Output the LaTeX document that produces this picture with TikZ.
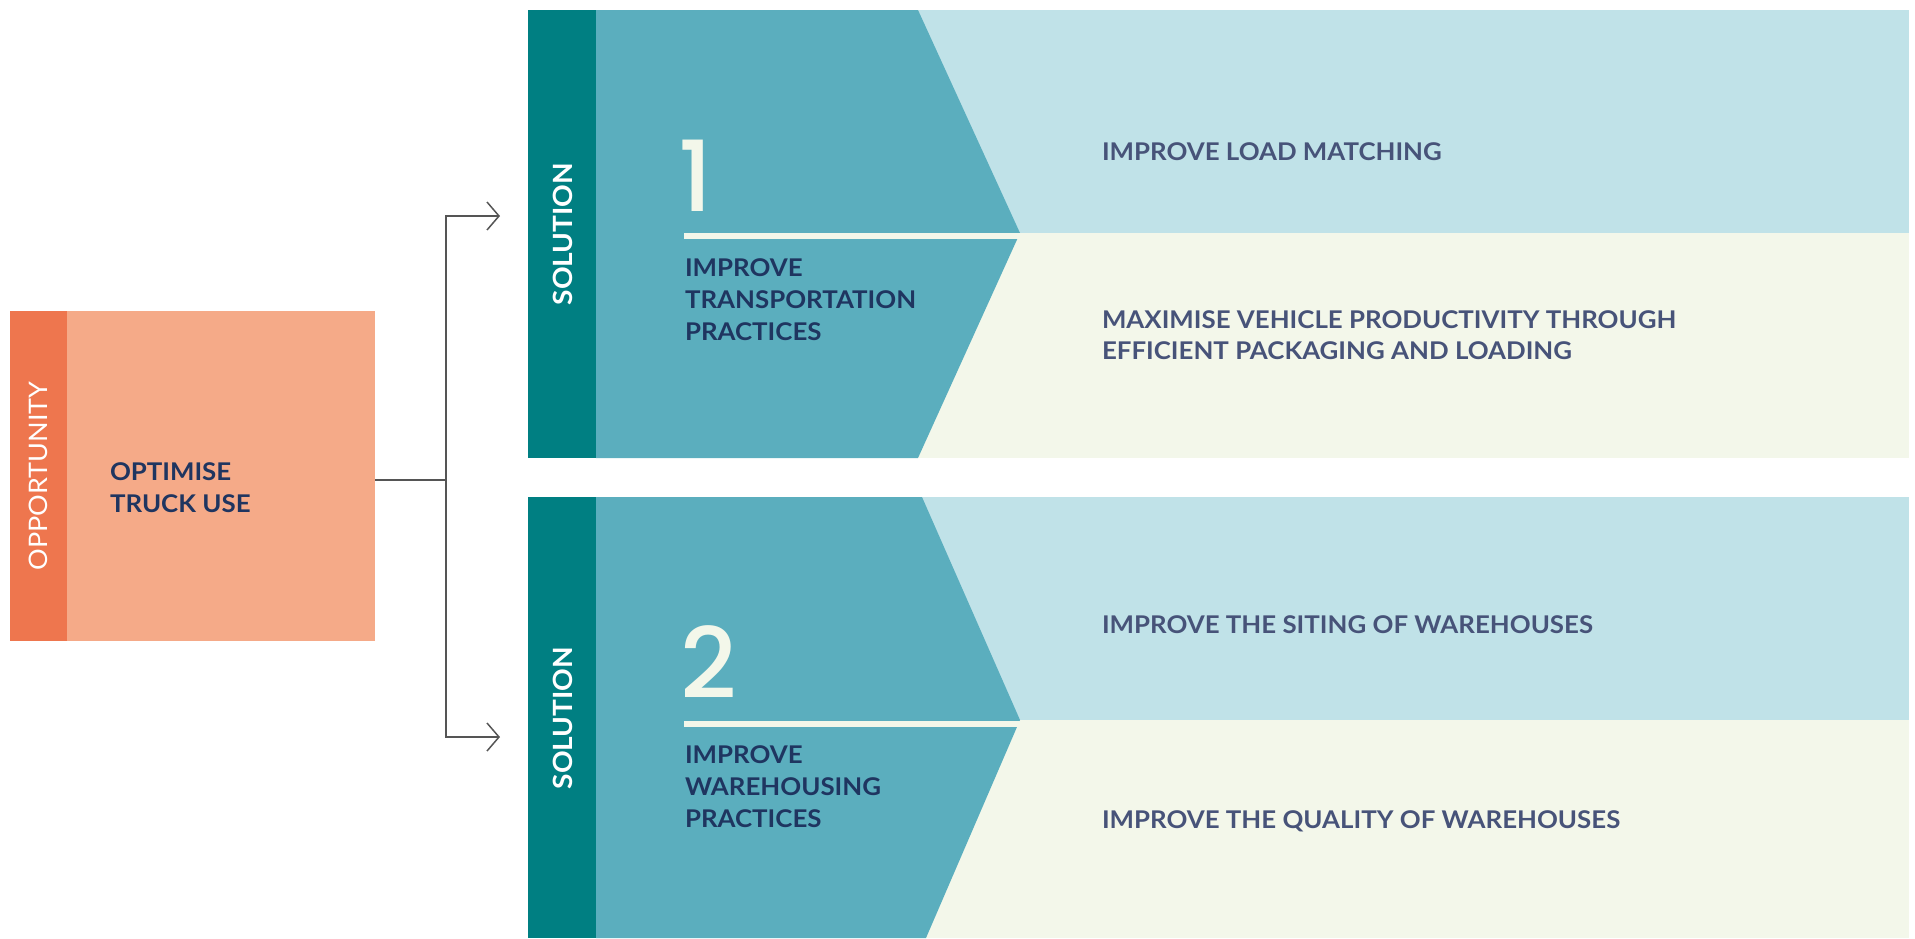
\documentclass[tikz,border=0pt]{standalone}
\usepackage{fontspec}
\setmainfont{Lato}
\newfontfamily\widefont{Lato}[FakeStretch=1.06]
\newfontfamily\numfont{Poppins Medium}
\usetikzlibrary{arrows.meta}
\definecolor{oppdark}{HTML}{EE764E}
\definecolor{opplight}{HTML}{F5AA88}
\definecolor{soldark}{HTML}{007F82}
\definecolor{solmid}{HTML}{5BAEBE}
\definecolor{sollight}{HTML}{C0E2E8}
\definecolor{cream}{HTML}{F3F7EA}
\definecolor{navy}{HTML}{1F3560}
\definecolor{slate}{HTML}{475379}
\definecolor{conn}{HTML}{555555}
\begin{document}
\begin{tikzpicture}[x=1pt,y=-1pt,
  box/.style={inner sep=0, outer sep=0, anchor=north west},
  lbl/.style={inner sep=0, outer sep=0, anchor=base west, align=left,
    font=\widefont\bfseries\fontsize{24.4}{32}\selectfont},
  navytxt/.style={lbl, text=navy},
  slatetxt/.style={lbl, text=slate, font=\widefont\bfseries\fontsize{24.4}{31}\selectfont},
  vert/.style={rotate=90, inner sep=0, text=white, font=\widefont\fontsize{25.5}{30}\selectfont},
  bignum/.style={inner sep=0, outer sep=0, anchor=base west, text=cream,
    font=\numfont\fontsize{98}{98}\selectfont},
  conline/.style={draw=conn, line width=1.5pt},
  arr/.style={conline, -{Straight Barb[length=12pt, width=28pt, line width=1.5pt]}}
]
\useasboundingbox (0,0) rectangle (1915,938);

% ---------- Opportunity ----------
\node[box, fill=opplight, minimum width=365, minimum height=330] (opp) at (10,311) {};
\node[box, fill=oppdark, minimum width=57, minimum height=330] (oppstrip) at (10,311) {};
\node[vert] (opplbl) at (38,476) {OPPORTUNITY};
\node[navytxt] (opptxt) at (110,512) {OPTIMISE\\TRUCK USE};

% ---------- Solution 1 ----------
\fill[sollight] (596,10) rectangle (1909,233);
\fill[cream] (596,233) rectangle (1909,458);
\fill[solmid] (596,10) -- (918,10) -- (1020,233) -- (918,458) -- (596,458) -- cycle;
\fill[cream] (684,233) rectangle (1022,239);
\node[box, fill=soldark, minimum width=68, minimum height=448] (sol1) at (528,10) {};
\node[vert, font=\widefont\bfseries\fontsize{26.5}{30}\selectfont] (sol1lbl) at (563,234) {SOLUTION};
\node[bignum] (num1) at (678,211) {1};
\node[navytxt] (sol1txt) at (685,340) {IMPROVE\\TRANSPORTATION\\PRACTICES};
\node[slatetxt] (r1a) at (1102,160) {IMPROVE LOAD MATCHING};
\node[slatetxt] (r1b) at (1102,359) {MAXIMISE VEHICLE PRODUCTIVITY THROUGH\\EFFICIENT PACKAGING AND LOADING};

% ---------- Solution 2 ----------
\fill[sollight] (596,497) rectangle (1909,720);
\fill[cream] (596,720) rectangle (1909,938);
\fill[solmid] (596,497) -- (922,497) -- (1020,720) -- (926,938) -- (596,938) -- cycle;
\fill[cream] (684,721) rectangle (1022,727);
\node[box, fill=soldark, minimum width=68, minimum height=441] (sol2) at (528,497) {};
\node[vert, font=\widefont\bfseries\fontsize{26.5}{30}\selectfont] (sol2lbl) at (563,718) {SOLUTION};
\node[bignum] (num2) at (680,698) {2};
\node[navytxt] (sol2txt) at (685,827) {IMPROVE\\WAREHOUSING\\PRACTICES};
\node[slatetxt] (r2a) at (1102,633) {IMPROVE THE SITING OF WAREHOUSES};
\node[slatetxt] (r2b) at (1102,828) {IMPROVE THE QUALITY OF WAREHOUSES};

% ---------- Connectors ----------
\coordinate (j) at (446,480);
\coordinate (a1) at (500,216);
\coordinate (a2) at (500,737);
\draw[conline] (opp.east |- j) -- (j);
\draw[arr] (j) |- (a1);
\draw[arr] (j) |- (a2);
\end{tikzpicture}
\end{document}
